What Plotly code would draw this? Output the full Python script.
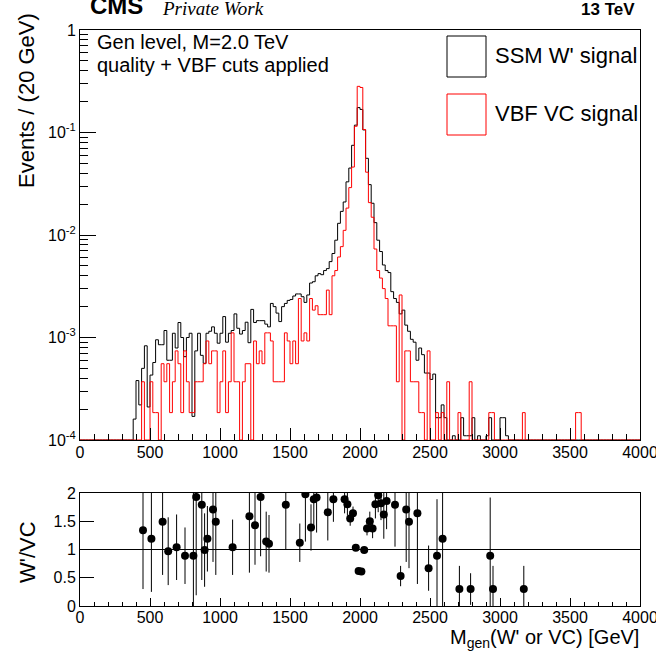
import plotly.graph_objects as go

# ---------------- data ----------------
bin_edges = list(range(0, 4001, 20))  # 20 GeV bins, 0..4000 GeV

ssm_vals = [
    0, 0, 0, 0, 0, 0, 0, 0, 0, 0,
    0, 0, 0, 0, 0, 0, 0, 0, 0, 1.6e-4,
    3.8e-4, 2.2e-4, 5.0e-4, 8.3e-4, 2.1e-4, 4.3e-4, 5.7e-4, 9.5e-4, 8.5e-4, 8.5e-4,
    1.17e-3, 6.0e-4, 6.0e-4, 1.1e-3, 7.9e-4, 1.4e-3, 1.0e-3, 6.5e-4, 1.0e-3, 1.1e-3,
    1.7e-4, 7.4e-4, 1.1e-3, 6.7e-4, 5.6e-4, 1.1e-3, 1.15e-3, 1.27e-3, 1.1e-3, 8.8e-4,
    1.1e-3, 1.6e-3, 9.0e-4, 1.1e-3, 1.17e-3, 1.7e-3, 1.23e-3, 1.08e-3, 1.17e-3, 1.41e-3,
    8.9e-4, 1.88e-3, 1.4e-3, 1.46e-3, 1.46e-3, 1.46e-3, 1.35e-3, 1.27e-3, 2.15e-3, 2.0e-3,
    1.73e-3, 1.43e-3, 2.0e-3, 2.15e-3, 2.3e-3, 2.35e-3, 2.54e-3, 2.66e-3, 2.66e-3, 2.5e-3,
    2.2e-3, 2.6e-3, 3.4e-3, 3.5e-3, 4.0e-3, 4.2e-3, 4.1e-3, 4.5e-3, 4.7e-3, 5.5e-3,
    6.6e-3, 8.9e-3, 1.3e-2, 1.7e-2, 2.1e-2, 3.3e-2, 4.5e-2, 7.5e-2, 0.118, 0.175,
    0.168, 0.106, 0.056, 0.031, 0.0204, 0.0132, 0.0089, 0.0069, 0.0051, 0.0045,
    4.3e-3, 2.8e-3, 2.4e-3, 2.2e-3, 1.7e-3, 1.85e-3, 1.32e-3, 1.15e-3, 9.6e-4, 9.0e-4,
    6.0e-4, 7.9e-4, 6.8e-4, 4.5e-4, 4.5e-4, 3.9e-4, 4.4e-4, 1.65e-4, 1.65e-4, 2.2e-4,
    1.65e-4, 0, 5.5e-5, 1.1e-4, 5.5e-5, 5.5e-5, 1.65e-4, 1.1e-4, 1.1e-4, 1.1e-4,
    1.65e-4, 5.5e-5, 1.1e-4, 0, 5.5e-5, 1.1e-4, 1.65e-4, 5.5e-5, 0, 5.5e-5,
    1.65e-4, 1.65e-4, 1.1e-4, 0, 0, 0, 0, 0, 5.5e-5, 0,
    0, 0, 0, 0, 0, 0, 0, 0, 0, 0,
    0, 0, 0, 0, 0, 0, 0, 0, 0, 0,
    0, 0, 0, 0, 0, 0, 0, 0, 0, 0,
    0, 0, 0, 0, 0, 0, 0, 0, 0, 0,
]

vc_vals = [
    0, 0, 0, 0, 0, 0, 0, 0, 0, 0,
    0, 0, 0, 0, 0, 0, 0, 0, 0, 0,
    0, 0, 3.7e-4, 0, 0, 3.7e-4, 1.85e-4, 1.85e-4, 0, 5.55e-4,
    3.7e-4, 5.55e-4, 1.85e-4, 3.7e-4, 7.4e-4, 5.55e-4, 1.85e-4, 7.4e-4, 3.7e-4, 1.85e-4,
    1.85e-4, 3.7e-4, 3.7e-4, 3.7e-4, 5.55e-4, 9.25e-4, 5.55e-4, 7.4e-4, 7.4e-4, 1.85e-4,
    3.7e-4, 7.4e-4, 1.85e-4, 3.7e-4, 1.11e-3, 3.7e-4, 3.7e-4, 0, 3.7e-4, 5.55e-4,
    5.55e-4, 0, 9.25e-4, 5.55e-4, 7.4e-4, 5.55e-4, 1.11e-3, 1.11e-3, 9.25e-4, 3.7e-4,
    3.7e-4, 3.7e-4, 3.7e-4, 1.11e-3, 9.25e-4, 5.55e-4, 9.25e-4, 5.55e-4, 2.4e-3, 9.25e-4,
    1.11e-3, 9.25e-4, 2.4e-3, 1.85e-3, 2.04e-3, 1.67e-3, 1.67e-3, 1.67e-3, 2.9e-3, 1.67e-3,
    4.0e-3, 4.5e-3, 6.1e-3, 7.7e-3, 1.11e-2, 1.83e-2, 2.9e-2, 4.6e-2, 0.115, 0.282,
    0.275, 0.107, 0.041, 0.0207, 0.0149, 0.0073, 0.0045, 0.0038, 0.0030, 0.0024,
    1.3e-3, 1.3e-3, 1.3e-3, 3.7e-4, 2.6e-3, 0, 7.4e-4, 7.4e-4, 3.7e-4, 3.7e-4,
    3.7e-4, 1.85e-4, 1.85e-4, 0, 7.4e-4, 0, 0, 1.85e-4, 0, 1.85e-4,
    0, 3.7e-4, 0, 0, 0, 1.85e-4, 0, 0, 0, 3.7e-4,
    0, 0, 0, 0, 0, 0, 1.85e-4, 1.85e-4, 0, 0,
    0, 0, 0, 0, 0, 0, 0, 0, 1.85e-4, 0,
    0, 0, 0, 0, 0, 0, 0, 0, 0, 0,
    0, 0, 0, 0, 0, 0, 0, 1.85e-4, 1.85e-4, 0,
    0, 0, 0, 0, 0, 0, 0, 0, 0, 0,
    0, 0, 0, 0, 0, 0, 0, 0, 0, 0,
]

ratio_x = [450, 510, 590, 630, 690, 750, 810, 830, 870, 890,
           910, 950, 970, 1090, 1210, 1250, 1290, 1330, 1350, 1470,
           1570, 1610, 1650, 1670, 1690, 1770, 1810, 1890, 1910, 1930,
           1950, 1970, 1990, 2010, 2030, 2050, 2070, 2090, 2110, 2130,
           2150, 2170, 2190, 2250, 2290, 2330, 2350, 2410, 2490, 2550,
           2590, 2710, 2790, 2930, 2950, 3170]
ratio_y = [1.34, 1.19, 1.49, 0.97, 1.04, 0.89, 0.89, 1.93, 1.79, 0.99,
           1.19, 1.71, 1.49, 1.04, 1.59, 1.43, 1.93, 1.14, 1.10, 1.79,
           1.12, 1.98, 1.39, 1.89, 1.92, 1.66, 1.89, 1.89, 1.80, 1.55,
           1.64, 1.03, 0.62, 0.61, 0.99, 1.37, 1.50, 1.37, 1.80, 1.96,
           1.82, 1.62, 1.86, 1.79, 0.53, 1.71, 1.49, 1.64, 0.67, 0.89,
           1.19, 0.30, 0.30, 0.89, 0.30, 0.30]
ratio_err = [1.04, 0.94, 0.94, 0.60, 0.58, 0.50, 1.20, 1.74, 1.33, 0.65,
             0.58, 0.93, 0.94, 0.49, 1.00, 0.70, 1.05, 0.53, 0.51, 0.79,
             0.34, 0.84, 0.41, 0.50, 0.62, 0.50, 0.40, 0.25, 0.20, 0.13,
             0.12, 0.05, 0.03, 0.03, 0.05, 0.12, 0.17, 0.17, 0.25, 0.30,
             0.30, 0.43, 0.50, 0.74, 0.18, 0.93, 0.82, 1.25, 0.40, 1.00,
             1.30, 0.41, 0.28, 1.03, 0.41, 0.41]

x_ticks = [0, 500, 1000, 1500, 2000, 2500, 3000, 3500, 4000]
y_log_ticks = [1e-4, 1e-3, 1e-2, 1e-1, 1]
y_log_labels = ["10<sup>-4</sup>", "10<sup>-3</sup>", "10<sup>-2</sup>", "10<sup>-1</sup>", "1"]
ratio_ticks = [0, 0.5, 1, 1.5, 2]
ratio_labels = ["0", "0.5", "1", "1.5", "2"]

# ---------------- layout helpers ----------------
W, H = 656, 651
ML, MR, MT, MB = 80, 16, 30, 45
PW = W - ML - MR
PH = H - MT - MB
YMIN = 1e-4


def px(x):
    return (x - ML) / PW


def py(y):
    return (H - MB - y) / PH


FONT = "Liberation Sans, Arial, Helvetica, sans-serif"


def step(vals):
    ys = [max(v, YMIN) for v in vals]
    return bin_edges, ys + [ys[-1]]


fig = go.Figure()

xs, ys = step(ssm_vals)
fig.add_trace(go.Scatter(x=xs, y=ys, mode="lines", line=dict(color="black", width=1, shape="hv"),
                         xaxis="x", yaxis="y", showlegend=False, hoverinfo="skip"))
xs, ys = step(vc_vals)
fig.add_trace(go.Scatter(x=xs, y=ys, mode="lines", line=dict(color="#ff0000", width=1, shape="hv"),
                         xaxis="x", yaxis="y", showlegend=False, hoverinfo="skip"))

fig.add_trace(go.Scatter(x=ratio_x, y=ratio_y, mode="markers",
                         marker=dict(color="black", size=8),
                         error_y=dict(type="data", array=ratio_err, width=0, thickness=1, color="black"),
                         xaxis="x2", yaxis="y2", showlegend=False))

minor_log = [m * d for d in [1e-4, 1e-3, 1e-2, 1e-1] for m in range(2, 10)]

axis_common = dict(showline=True, mirror=True, linecolor="black", linewidth=1,
                   showgrid=False, zeroline=False, ticks="inside", tickcolor="black",
                   automargin=False,
                   tickfont=dict(family=FONT, size=16, color="black"))

fig.update_layout(
    width=W, height=H,
    margin=dict(l=ML, r=MR, t=MT, b=MB, autoexpand=False),
    paper_bgcolor="white", plot_bgcolor="white",
    showlegend=False,
    xaxis=dict(domain=[0, 1], anchor="y", range=[0, 4000], tickmode="array", tickvals=x_ticks,
               ticklen=12, ticklabeloverflow="allow", ticklabelstandoff=-2,
               minor=dict(ticks="inside", dtick=100, ticklen=6, tickcolor="black"),
               **axis_common),
    yaxis=dict(domain=[py(440), 1], anchor="x", type="log", range=[-4, 0], tickmode="array",
               tickvals=y_log_ticks, ticktext=y_log_labels, ticklen=16,
               minor=dict(ticks="inside", tickmode="array", tickvals=minor_log, ticklen=8, tickcolor="black"),
               **axis_common),
    xaxis2=dict(domain=[0, 1], anchor="y2", range=[0, 4000], tickmode="array", tickvals=x_ticks,
                ticklen=8, ticklabeloverflow="allow", ticklabelstandoff=-3,
                minor=dict(ticks="inside", dtick=100, ticklen=4, tickcolor="black"),
                **axis_common),
    yaxis2=dict(domain=[0, py(493)], anchor="x2", range=[0, 2], tickmode="array",
                tickvals=ratio_ticks, ticktext=ratio_labels, ticklen=14, **axis_common),
)

fig.add_shape(type="line", xref="x2 domain", yref="y2", x0=0, x1=1, y0=1, y1=1,
              line=dict(color="black", width=1))

# legend boxes
fig.add_shape(type="rect", xref="paper", yref="paper", x0=px(447), x1=px(486), y0=py(77), y1=py(36),
              line=dict(color="black", width=1), fillcolor="rgba(0,0,0,0)")
fig.add_shape(type="rect", xref="paper", yref="paper", x0=px(447), x1=px(486), y0=py(135), y1=py(94),
              line=dict(color="#ff0000", width=1), fillcolor="rgba(0,0,0,0)")


def note(text, x, y, size, xanchor="left", bold=False, italic=False, family=FONT, angle=0):
    t = text
    if bold:
        t = "<b>" + t + "</b>"
    if italic:
        t = "<i>" + t + "</i>"
    fig.add_annotation(text=t, xref="paper", yref="paper", x=px(x), y=py(y), xanchor=xanchor,
                       yanchor="middle", showarrow=False, textangle=angle,
                       font=dict(family=family, size=size, color="black"))


note("SSM W' signal", 493, 55.5, 22)
note("VBF VC signal", 493, 113.5, 22)
note("Gen level, M=2.0 TeV", 95, 41.5, 20)
note("quality + VBF cuts applied", 95, 65.5, 20)
note("CMS", 88, 6, 24, bold=True)
note("Private Work", 160, 8.5, 19, italic=True, family="Liberation Serif, Times New Roman, serif")
note("13 TeV", 637, 9, 17, xanchor="right", bold=True)
note("Events / (20 GeV)", 27, 101, 22, xanchor="center", angle=-90)
note("W'/VC", 27, 552, 22, xanchor="center", angle=-90)
note("M<sub>gen</sub>(W' or VC) [GeV]", 641, 638, 20, xanchor="right")

fig.write_html("out.html")
